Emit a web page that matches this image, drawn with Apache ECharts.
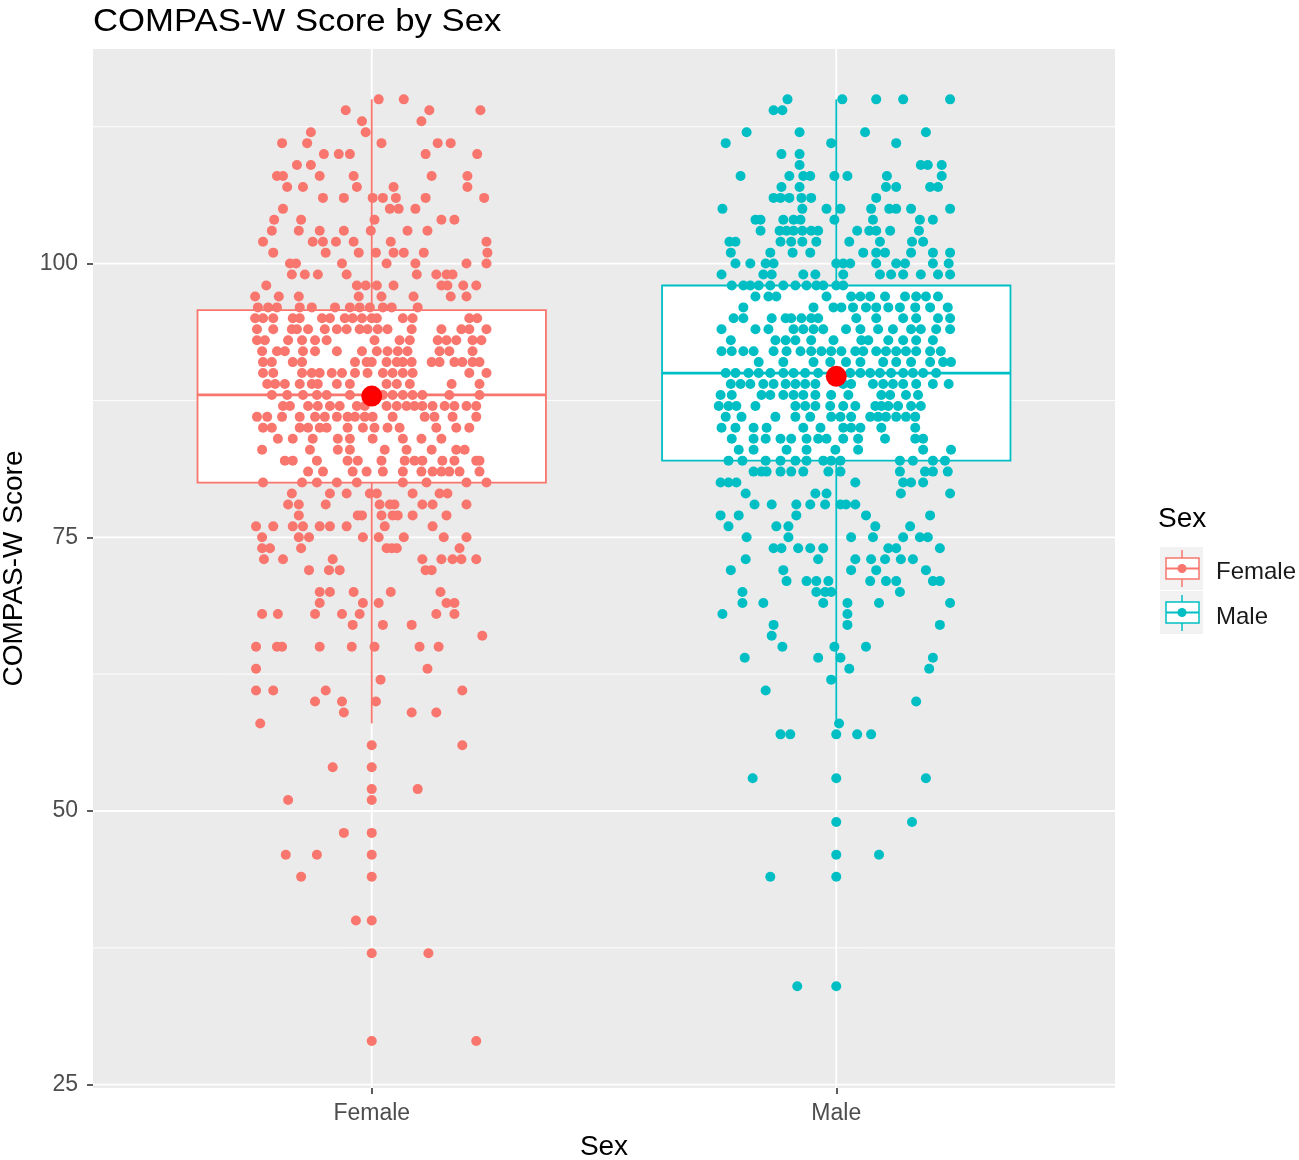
<!DOCTYPE html>
<html>
<head>
<meta charset="utf-8">
<script src="https://cdn.jsdelivr.net/npm/echarts@6/dist/echarts.min.js"></script>
<style>
  html, body { margin: 0; padding: 0; background: #fff; }
  #chart { width: 1299px; height: 1160px; }
</style>
</head>
<body>
<div id="chart"></div>
<script>
// groups on the x axis (1 = Female, 2 = Male)
const groups = ['Female', 'Male'];
const groupColors = ['#F8766D', '#00BFC4'];

// box stats: [x, lower whisker, Q1, median, Q3, upper whisker]
const boxStats = [
  [1, 58, 80, 88, 95.75, 115],
  [2, 58, 82, 90, 98, 115]
];
// mean marker per group: [x, mean]
const means = [[1, 87.9], [2, 89.7]];

const yTicks = [25, 50, 75, 100];
const yMinor = [37.5, 62.5, 87.5, 112.5];

// jittered points, per score row: [score, [x offsets from group centre]]
const femaleRows = [
  [115, [0.015, 0.069]],
  [114, [-0.056, 0.124, 0.234]],
  [113, [-0.021, 0.107]],
  [112, [-0.131, -0.013]],
  [111, [-0.193, -0.139, 0.021, 0.142, 0.170]],
  [110, [-0.103, -0.071, -0.047, 0.116, 0.227]],
  [109, [-0.161, -0.131]],
  [108, [-0.204, -0.191, -0.112, -0.039, 0.129, 0.206]],
  [107, [-0.182, -0.148, -0.032, 0.047, 0.206]],
  [106, [-0.105, -0.060, 0.002, 0.024, 0.052, 0.116, 0.242]],
  [105, [-0.191, 0.039, 0.058, 0.094]],
  [104, [-0.210, -0.152, 0.006, 0.150, 0.178]],
  [103, [-0.215, -0.157, -0.112, -0.060, -0.002, 0.077, 0.120]],
  [102, [-0.234, -0.127, -0.105, -0.077, -0.039, 0.041, 0.247]],
  [101, [-0.212, -0.099, -0.028, 0.009, 0.047, 0.069, 0.112, 0.249]],
  [100, [-0.176, -0.163, -0.064, 0.032, 0.094, 0.204, 0.247]],
  [99, [-0.172, -0.144, -0.116, -0.054, 0.097, 0.139, 0.161, 0.174]],
  [98, [-0.227, -0.032, -0.013, 0.011, 0.047, 0.150, 0.163, 0.197, 0.225]],
  [97, [-0.251, -0.200, -0.157, -0.028, 0.021, 0.090, 0.170, 0.204]],
  [96, [-0.245, -0.223, -0.204, -0.155, -0.129, -0.079, -0.047, -0.026, -0.004, 0.024, 0.043, 0.099]],
  [95, [-0.251, -0.234, -0.212, -0.170, -0.155, -0.107, -0.090, -0.058, -0.041, -0.021, 0, 0.011, 0.067, 0.088, 0.210, 0.227]],
  [94, [-0.247, -0.212, -0.172, -0.161, -0.137, -0.101, -0.075, -0.054, -0.026, -0.009, 0.013, 0.034, 0.086, 0.150, 0.193, 0.210, 0.247]],
  [93, [-0.247, -0.230, -0.180, -0.150, -0.122, -0.097, 0.006, 0.060, 0.082, 0.142, 0.161, 0.182, 0.217, 0.236]],
  [92, [-0.236, -0.204, -0.187, -0.148, -0.122, -0.075, -0.021, 0.011, 0.034, 0.056, 0.077, 0.146, 0.167, 0.217]],
  [91, [-0.234, -0.215, -0.170, -0.150, -0.036, -0.011, 0, 0.032, 0.054, 0.067, 0.086, 0.129, 0.146, 0.178, 0.195, 0.217, 0.232]],
  [90, [-0.234, -0.212, -0.150, -0.129, -0.112, -0.086, -0.064, -0.036, -0.009, 0.024, 0.045, 0.067, 0.088, 0.210, 0.247]],
  [89, [-0.225, -0.208, -0.187, -0.155, -0.129, -0.116, -0.075, -0.047, 0.032, 0.054, 0.082, 0.172, 0.232]],
  [88, [-0.215, -0.182, -0.148, -0.118, -0.097, -0.047, 0.024, 0.045, 0.067, 0.088, 0.109, 0.167, 0.232]],
  [87, [-0.191, -0.176, -0.137, -0.116, -0.090, -0.069, -0.032, -0.015, 0.032, 0.054, 0.075, 0.092, 0.109, 0.131, 0.157, 0.178, 0.204, 0.225]],
  [86, [-0.247, -0.225, -0.193, -0.155, -0.122, -0.101, -0.075, -0.052, -0.036, -0.015, 0.002, 0.045, 0.114, 0.135, 0.174, 0.225]],
  [85, [-0.234, -0.215, -0.155, -0.137, -0.112, -0.097, -0.052, -0.019, 0.006, 0.034, 0.060, 0.139, 0.182, 0.210]],
  [84, [-0.202, -0.170, -0.127, -0.073, -0.047, 0.002, 0.067, 0.107, 0.150]],
  [83, [-0.236, -0.133, -0.073, -0.047, 0.028, 0.075, 0.129, 0.182, 0.200]],
  [82, [-0.187, -0.170, -0.118, -0.052, -0.030, 0.021, 0.071, 0.092, 0.109, 0.152, 0.178, 0.225, 0.232]],
  [81, [-0.137, -0.105, -0.041, -0.011, 0.024, 0.067, 0.107, 0.131, 0.150, 0.167, 0.189, 0.232]],
  [80, [-0.234, -0.150, -0.118, -0.075, -0.032, 0.067, 0.118, 0.204, 0.247]],
  [79, [-0.172, -0.090, -0.054, -0.004, 0.011, 0.088, 0.146, 0.163]],
  [78, [-0.180, -0.157, -0.099, 0.017, 0.039, 0.049, 0.109, 0.131, 0.204]],
  [77, [-0.157, -0.030, -0.021, 0.021, 0.045, 0.056, 0.088, 0.161]],
  [76, [-0.249, -0.212, -0.170, -0.148, -0.112, -0.090, -0.054, 0.028, 0.131]],
  [75, [-0.236, -0.157, -0.135, -0.019, 0.015, 0.069, 0.155, 0.204]],
  [74, [-0.236, -0.219, -0.152, 0.032, 0.043, 0.054, 0.189]],
  [73, [-0.232, -0.191, -0.084, 0.109, 0.150, 0.174, 0.193, 0.225]],
  [72, [-0.135, -0.092, -0.069, 0.116, 0.129]],
  [70, [-0.112, -0.090, -0.039, 0.041, 0.148]],
  [69, [-0.112, -0.019, 0.015, 0.161, 0.178]],
  [68, [-0.236, -0.202, -0.122, -0.064, -0.026, 0.139, 0.178]],
  [67, [-0.041, 0.024, 0.086]],
  [66, [0.238]],
  [65, [-0.249, -0.204, -0.193, -0.112, -0.043, 0.006, 0.103, 0.144]],
  [63, [-0.249, 0.120]],
  [62, [0.019]],
  [61, [-0.249, -0.212, -0.099, 0.195]],
  [60, [-0.122, -0.064, 0.009]],
  [59, [-0.060, 0.086, 0.139]],
  [58, [-0.240]],
  [56, [0, 0.195]],
  [54, [-0.084, 0]],
  [52, [0, 0.099]],
  [51, [-0.180, 0]],
  [48, [-0.060, 0]],
  [46, [-0.185, -0.118, 0]],
  [44, [-0.152, 0]],
  [40, [-0.034, 0]],
  [37, [0, 0.122]],
  [29, [0, 0.225]]
];

const maleRows = [
  [115, [-0.105, 0.013, 0.086, 0.144, 0.245]],
  [114, [-0.135, -0.116]],
  [112, [-0.193, -0.079, 0.062, 0.193]],
  [111, [-0.238, -0.011, 0.129]],
  [110, [-0.118, -0.079]],
  [109, [-0.079, 0.182, 0.197, 0.227]],
  [108, [-0.206, -0.101, -0.071, -0.056, -0.004, 0.024, 0.109, 0.227]],
  [107, [-0.118, -0.079, 0.107, 0.129, 0.202, 0.219]],
  [106, [-0.135, -0.120, -0.101, -0.075, -0.054, 0.086]],
  [105, [-0.245, -0.073, -0.021, 0.009, 0.075, 0.114, 0.129, 0.161, 0.245]],
  [104, [-0.174, -0.163, -0.114, -0.092, -0.077, -0.004, 0.079, 0.180, 0.208]],
  [103, [-0.163, -0.122, -0.107, -0.092, -0.073, -0.054, -0.039, 0.045, 0.071, 0.086, 0.116, 0.178]],
  [102, [-0.230, -0.217, -0.120, -0.097, -0.073, -0.043, 0.028, 0.094, 0.163, 0.187]],
  [101, [-0.227, -0.142, -0.094, -0.056, 0.058, 0.086, 0.105, 0.161, 0.208, 0.245]],
  [100, [-0.217, -0.185, -0.152, -0.135, 0, 0.015, 0.030, 0.086, 0.129, 0.148, 0.208, 0.242]],
  [99, [-0.247, -0.157, -0.139, -0.071, -0.045, 0.015, 0.094, 0.118, 0.144, 0.182, 0.219, 0.245]],
  [98, [-0.225, -0.200, -0.185, -0.167, -0.142, -0.114, -0.088, -0.064, -0.043, -0.028, 0, 0.015]],
  [97, [-0.174, -0.146, -0.129, -0.021, 0.032, 0.052, 0.073, 0.105, 0.148, 0.172, 0.193, 0.219]],
  [96, [-0.200, -0.049, -0.006, 0.011, 0.036, 0.064, 0.086, 0.112, 0.137, 0.170, 0.202, 0.240]],
  [95, [-0.221, -0.200, -0.139, -0.109, -0.097, -0.075, -0.054, -0.039, 0.043, 0.086, 0.144, 0.172, 0.219, 0.245]],
  [94, [-0.247, -0.174, -0.146, -0.092, -0.071, -0.049, -0.028, 0.021, 0.052, 0.090, 0.122, 0.161, 0.182, 0.215, 0.245]],
  [93, [-0.227, -0.131, -0.109, -0.088, -0.054, -0.006, 0.054, 0.069, 0.112, 0.144, 0.172, 0.208]],
  [92, [-0.247, -0.225, -0.200, -0.178, -0.135, -0.107, -0.077, -0.054, -0.032, -0.011, 0.011, 0.041, 0.058, 0.086, 0.107, 0.129, 0.150, 0.172, 0.202, 0.225]],
  [91, [-0.167, -0.114, -0.049, -0.013, 0.021, 0.052, 0.101, 0.129, 0.161, 0.202, 0.230, 0.247]],
  [90, [-0.238, -0.217, -0.189, -0.167, -0.142, -0.114, -0.092, -0.067, -0.039, 0.030, 0.052, 0.073, 0.094, 0.118, 0.144, 0.165, 0.187, 0.215]],
  [89, [-0.227, -0.206, -0.185, -0.157, -0.135, -0.109, -0.088, -0.067, -0.045, 0.015, 0.032, 0.079, 0.101, 0.122, 0.144, 0.172, 0.208, 0.242]],
  [88, [-0.249, -0.225, -0.161, -0.142, -0.114, -0.092, -0.071, -0.045, -0.011, 0.026, 0.097, 0.116, 0.150, 0.176]],
  [87, [-0.253, -0.232, -0.215, -0.174, -0.088, -0.067, -0.045, -0.013, 0.015, 0.041, 0.084, 0.097, 0.112, 0.133, 0.161, 0.182]],
  [86, [-0.238, -0.204, -0.131, -0.088, -0.056, -0.011, 0.009, 0.032, 0.073, 0.090, 0.107, 0.129, 0.150, 0.170]],
  [85, [-0.247, -0.217, -0.178, -0.150, -0.071, -0.034, 0.015, 0.032, 0.052, 0.097, 0.170]],
  [84, [-0.225, -0.178, -0.152, -0.120, -0.097, -0.064, -0.039, -0.021, 0.015, 0.047, 0.105, 0.170, 0.187]],
  [83, [-0.210, -0.178, -0.107, -0.064, -0.002, 0.047, 0.187, 0.247]],
  [82, [-0.232, -0.202, -0.152, -0.120, -0.088, -0.064, -0.028, -0.011, 0.009, 0.137, 0.165, 0.208, 0.234]],
  [81, [-0.178, -0.161, -0.150, -0.120, -0.097, -0.071, -0.017, 0.009, 0.137, 0.191, 0.208, 0.240]],
  [80, [-0.249, -0.232, -0.215, 0.041, 0.144, 0.161, 0.187]],
  [79, [-0.195, -0.045, -0.021, 0.139, 0.245]],
  [78, [-0.176, -0.139, -0.086, -0.056, -0.024, 0.009, 0.021, 0.041]],
  [77, [-0.249, -0.210, -0.086, 0.064, 0.202]],
  [76, [-0.232, -0.129, -0.103, 0.084, 0.159]],
  [75, [-0.193, -0.103, 0.032, 0.079, 0.144, 0.180, 0.197]],
  [74, [-0.135, -0.118, -0.082, -0.056, -0.028, 0.112, 0.129, 0.223]],
  [73, [-0.195, -0.039, 0.041, 0.075, 0.105, 0.139, 0.165]],
  [72, [-0.227, -0.114, 0.032, 0.086, 0.193]],
  [71, [-0.107, -0.064, -0.043, -0.017, 0.073, 0.107, 0.129, 0.208, 0.223]],
  [70, [-0.202, -0.043, -0.024, -0.011, 0.137]],
  [69, [-0.202, -0.157, -0.028, 0.024, 0.092, 0.245]],
  [68, [-0.245, 0.024]],
  [67, [-0.135, 0.024, 0.223]],
  [66, [-0.139]],
  [65, [-0.116, -0.004, 0.064]],
  [64, [-0.197, -0.039, 0.009, 0.208]],
  [63, [0.028, 0.200]],
  [62, [-0.011]],
  [61, [-0.152]],
  [60, [0.172]],
  [58, [0.006]],
  [57, [-0.120, -0.099, 0, 0.045, 0.075]],
  [53, [-0.180, 0, 0.193]],
  [49, [0, 0.163]],
  [46, [0, 0.092]],
  [44, [-0.142, 0]],
  [34, [-0.084, 0]]
];

function toPoints(rows, centre) {
  const pts = [];
  rows.forEach(function (row) {
    row[1].forEach(function (off) {
      pts.push([centre + off, row[0]]);
    });
  });
  return pts;
}

const chart = echarts.init(document.getElementById('chart'));
const boxHalf = 0.375;
const font = 'Liberation Sans, Arial, sans-serif';

// panel grid lines: [axis, value, width]
const gridLines = [];
yTicks.forEach(v => gridLines.push([0, v, 1.8]));
yMinor.forEach(v => gridLines.push([0, v, 0.9]));
[1, 2].forEach(v => gridLines.push([1, v, 1.8]));

const option = {
  animation: false,
  backgroundColor: '#ffffff',
  grid: {
    left: 93,
    right: 184,
    top: 49,
    bottom: 72,
    outerBoundsMode: 'none',
    containLabel: false,
    show: true,
    backgroundColor: '#EBEBEB',
    borderWidth: 0
  },
  xAxis: {
    type: 'value',
    min: 0.4,
    max: 2.6,
    name: 'Sex',
    nameLocation: 'middle',
    nameGap: 45,
    nameTextStyle: { fontFamily: font, fontSize: 28, color: '#000' },
    axisLine: { show: false },
    axisTick: { show: true, customValues: [1, 2], length: 6, lineStyle: { color: '#333', width: 1.6 } },
    axisLabel: {
      customValues: [1, 2],
      formatter: v => groups[Math.round(v) - 1] || '',
      fontFamily: font, fontSize: 23, color: '#4D4D4D', margin: 14
    },
    splitLine: { show: false }
  },
  yAxis: {
    type: 'value',
    min: 24.7,
    max: 119.6,
    name: 'COMPAS-W Score',
    nameLocation: 'middle',
    nameGap: 61,
    nameTextStyle: { fontFamily: font, fontSize: 28, color: '#000' },
    axisLine: { show: false },
    axisTick: { show: true, customValues: yTicks, length: 6, lineStyle: { color: '#333', width: 1.6 } },
    axisLabel: {
      customValues: yTicks,
      fontFamily: font, fontSize: 23, color: '#4D4D4D', margin: 15
    },
    splitLine: { show: false }
  },
  series: [
    {
      name: 'grid',
      type: 'custom',
      z: 1,
      silent: true,
      data: gridLines,
      encode: { x: -1, y: -1 },
      renderItem: function (params, api) {
        const cs = params.coordSys;
        const isX = api.value(0) === 1;
        const v = api.value(1);
        let shape;
        if (isX) {
          const px = api.coord([v, 50])[0];
          shape = { x1: px, y1: cs.y, x2: px, y2: cs.y + cs.height };
        } else {
          const py = api.coord([1, v])[1];
          shape = { x1: cs.x, y1: py, x2: cs.x + cs.width, y2: py };
        }
        return { type: 'line', shape: shape, style: { stroke: '#ffffff', lineWidth: api.value(2) } };
      }
    },
    {
      name: 'boxes',
      type: 'custom',
      z: 3,
      data: boxStats,
      encode: { x: 0, y: [1, 2, 3, 4, 5] },
      renderItem: function (params, api) {
        const x = api.value(0);
        const color = groupColors[params.dataIndex];
        const lo = api.coord([x, api.value(1)]);
        const q1 = api.coord([x, api.value(2)]);
        const med = api.coord([x, api.value(3)]);
        const q3 = api.coord([x, api.value(4)]);
        const hi = api.coord([x, api.value(5)]);
        const left = api.coord([x - boxHalf, api.value(2)])[0];
        const right = api.coord([x + boxHalf, api.value(2)])[0];
        const st = { stroke: color, lineWidth: 1.8, fill: null };
        return {
          type: 'group',
          children: [
            { type: 'line', shape: { x1: lo[0], y1: lo[1], x2: q1[0], y2: q1[1] }, style: st },
            { type: 'line', shape: { x1: q3[0], y1: q3[1], x2: hi[0], y2: hi[1] }, style: st },
            { type: 'rect', shape: { x: left, y: q3[1], width: right - left, height: q1[1] - q3[1] },
              style: { stroke: color, lineWidth: 1.8, fill: '#ffffff' } },
            { type: 'line', shape: { x1: left, y1: med[1], x2: right, y2: med[1] },
              style: { stroke: color, lineWidth: 2.8 } }
          ]
        };
      }
    },
    {
      name: 'Female',
      type: 'scatter',
      z: 4,
      symbolSize: 10,
      itemStyle: { color: groupColors[0], opacity: 1 },
      data: toPoints(femaleRows, 1)
    },
    {
      name: 'Male',
      type: 'scatter',
      z: 4,
      symbolSize: 10,
      itemStyle: { color: groupColors[1], opacity: 1 },
      data: toPoints(maleRows, 2)
    },
    {
      name: 'mean',
      type: 'scatter',
      z: 5,
      symbolSize: 21,
      itemStyle: { color: '#FF0000', opacity: 1 },
      data: means
    }
  ],
  graphic: [
    { type: 'text', x: 93, y: 7, scaleX: 1.12,
      style: { text: 'COMPAS-W Score by Sex', font: '31px ' + font, fill: '#000' } },
    { type: 'text', left: 1158, top: 505, style: { text: 'Sex', font: '28px ' + font, fill: '#000' } },
    { type: 'rect', shape: { x: 1160, y: 547, width: 43, height: 43 }, style: { fill: '#F2F2F2' } },
    { type: 'rect', shape: { x: 1160, y: 591, width: 43, height: 43 }, style: { fill: '#F2F2F2' } },
    { type: 'line', shape: { x1: 1182, y1: 550, x2: 1182, y2: 587 }, style: { stroke: groupColors[0], lineWidth: 1.5 } },
    { type: 'rect', shape: { x: 1166, y: 558, width: 33, height: 21 }, style: { stroke: groupColors[0], fill: '#ffffff', lineWidth: 1.5 } },
    { type: 'line', shape: { x1: 1166, y1: 568.5, x2: 1199, y2: 568.5 }, style: { stroke: groupColors[0], lineWidth: 2 } },
    { type: 'circle', shape: { cx: 1182, cy: 568.5, r: 4.5 }, style: { fill: groupColors[0] } },
    { type: 'line', shape: { x1: 1182, y1: 595, x2: 1182, y2: 631 }, style: { stroke: groupColors[1], lineWidth: 1.5 } },
    { type: 'rect', shape: { x: 1166, y: 602, width: 33, height: 21 }, style: { stroke: groupColors[1], fill: '#ffffff', lineWidth: 1.5 } },
    { type: 'line', shape: { x1: 1166, y1: 612.5, x2: 1199, y2: 612.5 }, style: { stroke: groupColors[1], lineWidth: 2 } },
    { type: 'circle', shape: { cx: 1182, cy: 612.5, r: 4.5 }, style: { fill: groupColors[1] } },
    { type: 'text', left: 1216, top: 560, style: { text: 'Female', font: '24px ' + font, fill: '#1A1A1A' } },
    { type: 'text', left: 1216, top: 605, style: { text: 'Male', font: '24px ' + font, fill: '#1A1A1A' } }
  ]
};

chart.setOption(option);
</script>
</body>
</html>
